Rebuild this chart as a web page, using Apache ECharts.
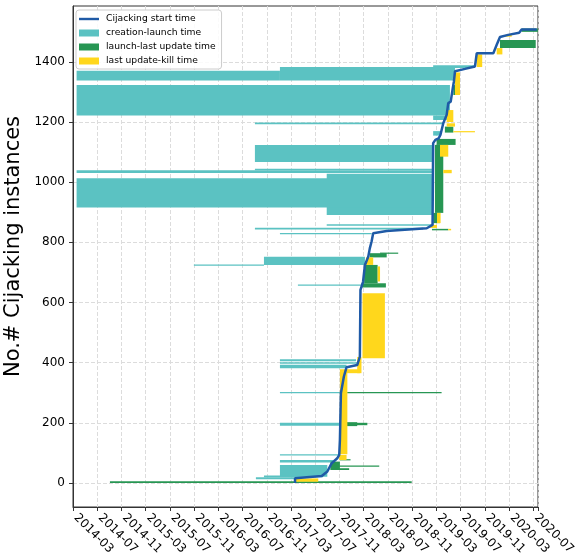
<!DOCTYPE html>
<html>
<head>
<meta charset="utf-8">
<script src="https://cdn.jsdelivr.net/npm/echarts@6/dist/echarts.min.js"></script>
<style>
  html, body { margin: 0; padding: 0; background: #fff; }
  #chart { width: 584px; height: 556px; }
</style>
</head>
<body>
<div id="chart"></div>
<script>
// Month ticks along the x axis, every four months
const xTicks = ['2014-03', '2014-07', '2014-11', '2015-03', '2015-07', '2015-11',
  '2016-03', '2016-07', '2016-11', '2017-03', '2017-07', '2017-11',
  '2018-03', '2018-07', '2018-11', '2019-03', '2019-07', '2019-11',
  '2020-03', '2020-07'];
const yTicks = [0, 200, 400, 600, 800, 1000, 1200, 1400];

// Cijacking start time per instance (sorted), as [date, instance #]
const startTime = [
  ['2017-03-21', 0], ['2017-03-21', 16], ['2017-08-03', 23], ['2017-08-31', 38],
  ['2017-09-22', 65], ['2017-10-20', 82], ['2017-10-30', 93], ['2017-11-03', 143],
  ['2017-11-08', 298], ['2017-11-23', 354], ['2017-12-06', 385], ['2018-01-29', 392],
  ['2018-02-12', 420], ['2018-02-15', 642], ['2018-02-28', 669], ['2018-03-07', 725],
  ['2018-03-24', 753], ['2018-04-01', 780], ['2018-04-10', 803], ['2018-04-18', 830],
  ['2018-06-25', 838], ['2019-01-13', 847], ['2019-02-12', 858], ['2019-02-13', 864],
  ['2019-02-15', 1130], ['2019-02-26', 1141], ['2019-03-12', 1146], ['2019-03-21', 1157],
  ['2019-03-27', 1163], ['2019-04-05', 1196], ['2019-04-22', 1224], ['2019-04-30', 1263],
  ['2019-05-12', 1268], ['2019-05-22', 1312], ['2019-05-28', 1335], ['2019-06-03', 1369],
  ['2019-07-23', 1377], ['2019-09-12', 1385], ['2019-09-21', 1429],
  ['2019-12-13', 1429], ['2019-12-21', 1434], ['2019-12-30', 1457], ['2020-01-16', 1483],
  ['2020-02-27', 1490], ['2020-04-21', 1497], ['2020-05-03', 1508], ['2020-07-18', 1508]
];

// Spans as [from, to, first instance, last instance]
const creationLaunch = [
  ['2014-03-19', '2017-01-06', 1338, 1371],
  ['2017-01-06', '2019-06-03', 1338, 1383],
  ['2019-02-15', '2019-09-12', 1380, 1389],
  ['2014-03-19', '2019-05-08', 1222, 1323],
  ['2019-02-15', '2019-04-30', 1207, 1222],
  ['2016-09-02', '2019-04-08', 1193, 1199],
  ['2019-02-15', '2019-03-19', 1155, 1170],
  ['2016-09-02', '2019-02-09', 1067, 1124],
  ['2014-03-19', '2019-02-09', 1031, 1040],
  ['2016-09-02', '2019-02-09', 1040, 1045],
  ['2017-08-28', '2019-02-09', 891, 1028],
  ['2014-03-19', '2019-02-09', 916, 1013],
  ['2017-08-28', '2019-02-15', 855, 860],
  ['2016-09-02', '2018-12-25', 843, 849],
  ['2017-01-06', '2018-04-10', 827, 831],
  ['2016-10-17', '2018-03-07', 725, 752],
  ['2015-10-30', '2016-10-17', 722, 726],
  ['2017-04-05', '2018-02-20', 656, 660],
  ['2017-01-06', '2018-01-23', 405, 411],
  ['2017-01-06', '2018-01-29', 396, 401],
  ['2017-01-06', '2017-12-06', 381, 393],
  ['2017-01-06', '2017-11-11', 298, 302],
  ['2017-01-06', '2017-11-03', 190, 200],
  ['2017-01-06', '2017-10-25', 91, 95],
  ['2017-01-06', '2017-09-30', 68, 76],
  ['2017-01-06', '2017-08-31', 21, 60],
  ['2016-10-17', '2017-08-09', 19, 25],
  ['2016-09-07', '2017-03-21', 12, 19]
];

const launchUpdate = [
  ['2014-09-04', '2018-10-29', 0, 6],
  ['2017-11-03', '2017-12-26', 75, 79],
  ['2017-09-17', '2017-11-03', 43, 71],
  ['2017-09-22', '2018-05-18', 54, 58],
  ['2017-09-17', '2017-12-19', 43, 49],
  ['2017-12-09', '2019-03-27', 298, 302],
  ['2017-11-11', '2018-03-19', 192, 200],
  ['2017-11-08', '2018-01-29', 189, 202],
  ['2018-02-20', '2018-06-21', 650, 664],
  ['2018-03-03', '2018-05-10', 664, 725],
  ['2018-04-01', '2018-06-25', 750, 764],
  ['2018-05-22', '2018-08-22', 762, 766],
  ['2019-02-09', '2019-04-30', 840, 845],
  ['2019-03-02', '2019-06-06', 1124, 1144],
  ['2019-02-24', '2019-04-05', 898, 1124],
  ['2019-02-15', '2019-03-19', 864, 898],
  ['2019-04-13', '2019-05-25', 1165, 1185],
  ['2019-05-25', '2019-06-11', 1290, 1323],
  ['2020-01-16', '2020-07-13', 1446, 1473],
  ['2020-05-03', '2020-07-24', 1500, 1511]
];

const updateKill = [
  ['2017-03-21', '2017-07-16', 4, 15],
  ['2017-11-03', '2017-12-10', 95, 378],
  ['2017-10-30', '2017-12-06', 76, 93],
  ['2018-01-29', '2018-02-20', 365, 419],
  ['2017-12-06', '2018-02-12', 365, 378],
  ['2018-02-25', '2018-06-16', 415, 631],
  ['2018-03-12', '2018-04-18', 725, 750],
  ['2018-05-10', '2018-05-22', 670, 720],
  ['2019-01-30', '2019-03-04', 848, 858],
  ['2019-04-30', '2019-05-14', 840, 845],
  ['2019-03-19', '2019-04-30', 1085, 1124],
  ['2019-04-05', '2019-05-17', 1030, 1041],
  ['2019-03-04', '2019-03-22', 864, 898],
  ['2019-05-25', '2019-09-12', 1166, 1170],
  ['2019-04-22', '2019-06-03', 1185, 1196],
  ['2019-04-22', '2019-05-25', 1200, 1240],
  ['2019-06-03', '2019-06-28', 1290, 1365],
  ['2019-09-21', '2019-10-18', 1383, 1425],
  ['2019-12-30', '2020-01-28', 1425, 1446],
  ['2020-02-10', '2020-03-14', 1484, 1490]
];

// x axis works in months counted from March 2014
function toMonths(dateStr) {
  const [y, m, d] = dateStr.split('-').map(Number);
  return (y - 2014) * 12 + (m - 3) + (d - 1) / 30.4;
}

const spanData = rows => rows.map(r => [toMonths(r[0]), toMonths(r[1]), r[2], r[3]]);

function renderSpan(params, api) {
  const topLeft = api.coord([api.value(0), api.value(3)]);
  const bottomRight = api.coord([api.value(1), api.value(2)]);
  const rect = echarts.graphic.clipRectByRect({
    x: topLeft[0], y: topLeft[1],
    width: bottomRight[0] - topLeft[0],
    height: bottomRight[1] - topLeft[1]
  }, {
    x: params.coordSys.x, y: params.coordSys.y,
    width: params.coordSys.width, height: params.coordSys.height
  });
  return rect && { type: 'rect', shape: rect, style: api.style() };
}

const spanSeries = (name, rows, color) => ({
  name,
  type: 'custom',
  renderItem: renderSpan,
  itemStyle: { color },
  encode: { x: [0, 1], y: [2, 3] },
  data: spanData(rows),
  animation: false
});

const chart = echarts.init(document.getElementById('chart'), null, { renderer: 'canvas' });
const font = 'DejaVu Sans';
const lineColor = '#1F5AA6';

chart.setOption({
  animation: false,
  grid: {
    left: 73, right: 46, top: 6, bottom: 49,
    outerBoundsMode: 'none',
    show: true, borderColor: '#333', borderWidth: 1, backgroundColor: 'transparent'
  },
  legend: {
    orient: 'vertical',
    left: 76, top: 10,
    padding: [2, 6, 1, 3],
    itemWidth: 20, itemHeight: 7, itemGap: 0,
    backgroundColor: 'rgba(255,255,255,0.85)',
    borderColor: '#ccc', borderWidth: 1, borderRadius: 3,
    textStyle: { fontFamily: font, fontSize: 9.2, color: '#000', lineHeight: 14, padding: [0, 0, 0, 2] },
    data: [
      { name: 'Cijacking start time', icon: 'path://M0,0L0,0M0,2.3h20v2.4h-20zM20,7L20,7' },
      { name: 'creation-launch time', icon: 'rect' },
      { name: 'launch-last update time', icon: 'rect' },
      { name: 'last update-kill time', icon: 'rect' }
    ]
  },
  xAxis: {
    type: 'value',
    min: 0, max: 76.77, interval: 4,
    axisLine: { show: true, onZero: false, lineStyle: { color: '#333', width: 1 } },
    axisTick: { show: true, length: 4, lineStyle: { color: '#333' } },
    axisLabel: {
      rotate: -45, margin: 6,
      padding: [0, 0, 0, 4],
      fontFamily: font, fontSize: 12, color: '#000',
      formatter: v => (Number.isInteger(v) && v % 4 === 0 && xTicks[v / 4]) || ''
    },
    splitLine: { show: true, lineStyle: { color: '#dcdcdc', type: [4, 2], width: 1 } }
  },
  yAxis: {
    type: 'value',
    min: -80, max: 1586, splitNumber: 8,
    name: 'No.# Cijacking instances',
    nameLocation: 'middle', nameGap: 47, nameRotate: 90,
    nameTextStyle: { fontFamily: font, fontSize: 21, color: '#000', padding: [0, 0, 0, 20] },
    axisLine: { show: true, onZero: false, lineStyle: { color: '#333', width: 1 } },
    axisTick: { show: true, length: 4, customValues: yTicks, lineStyle: { color: '#333' } },
    axisLabel: {
      margin: 8, fontFamily: font, fontSize: 12, color: '#000',
      customValues: yTicks, formatter: v => String(v)
    },
    splitLine: { show: true, lineStyle: { color: '#dcdcdc', type: [4, 2], width: 1 } }
  },
  series: [
    spanSeries('creation-launch time', creationLaunch, '#5BC2C2'),
    spanSeries('launch-last update time', launchUpdate, '#279653'),
    spanSeries('last update-kill time', updateKill, '#FFD71C'),
    {
      name: 'Cijacking start time',
      type: 'line',
      symbol: 'none',
      z: 5,
      lineStyle: { color: lineColor, width: 2.5 },
      itemStyle: { color: lineColor },
      data: startTime.map(p => [toMonths(p[0]), p[1]]),
      animation: false
    }
  ]
});
</script>
</body>
</html>
